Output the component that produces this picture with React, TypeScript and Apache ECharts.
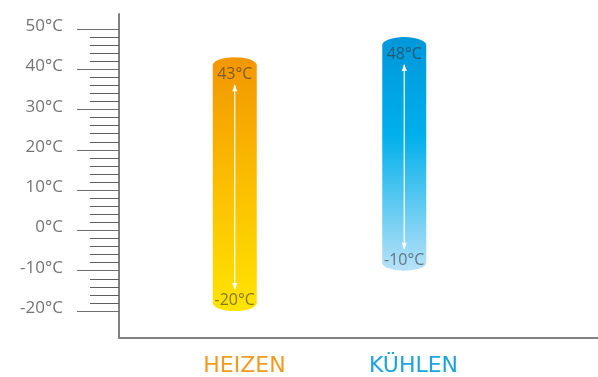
import React, { useEffect, useRef } from "react";
import * as echarts from "echarts";

const categories = ["HEIZEN", "KÜHLEN"];
const minTemps = [-20, -10];
const maxTemps = [43, 48];
const axisMin = -20;
const axisMax = 50;
const axisInterval = 10;

const gradients = [
  [
    { offset: 0, color: "#F39600" },
    { offset: 0.5, color: "#FBBE00" },
    { offset: 1, color: "#FFE400" },
  ],
  [
    { offset: 0, color: "#0097DA" },
    { offset: 0.42, color: "#00AFEB" },
    { offset: 1, color: "#B8E2F8" },
  ],
];
const labelColors = ["#F39A1E", "#1BA3E0"];

export default function App() {
  const ref = useRef<HTMLDivElement>(null);
  useEffect(() => {
    if (!ref.current) return;
    const chart = echarts.init(ref.current, undefined, { renderer: "svg" });
    const data = categories.map((c, i) => [i, minTemps[i], maxTemps[i]]);
    const option: any = {
      animation: false,
      grid: [
        { left: 119, right: 0, top: 14, bottom: 39 },
        { left: 119, right: 0, top: 29, bottom: 66 },
        { left: 150, right: 109, top: 29, bottom: 66 },
        { left: 160, right: 100, top: 29, bottom: 39 },
      ],
      xAxis: [
        {
          gridIndex: 0,
          type: "category",
          data: categories,
          axisLine: { show: true, lineStyle: { color: "#808080", width: 2 } },
          axisTick: { show: false },
          axisLabel: { show: false },
        },
        { gridIndex: 1, type: "category", data: categories, show: false },
        { gridIndex: 2, type: "category", data: categories, show: false },
        {
          gridIndex: 3,
          type: "category",
          data: categories,
          axisLine: { show: false },
          axisTick: { show: false },
          axisLabel: {
            margin: 15,
            fontFamily: "DejaVu Sans",
            fontSize: 22,
            color: (v: string, i: number) => labelColors[i],
          },
        },
      ],
      yAxis: [
        {
          gridIndex: 0,
          type: "value",
          min: 0,
          max: 1,
          axisLine: { show: true, lineStyle: { color: "#808080", width: 2 } },
          axisTick: { show: false },
          axisLabel: { show: false },
          splitLine: { show: false },
        },
        {
          gridIndex: 1,
          type: "value",
          min: axisMin,
          max: axisMax,
          interval: axisInterval,
          axisLine: { show: false },
          axisTick: { show: true, length: 42, lineStyle: { color: "#6e6e6e", width: 1 } },
          minorTick: { show: true, splitNumber: 5, length: 29, lineStyle: { color: "#5e5e5e", width: 1 } },
          axisLabel: {
            margin: 56,
            formatter: "{value}°C",
            fontFamily: "Open Sans",
            fontWeight: 400,
            fontSize: 17,
            color: "#747474",
            verticalAlign: "bottom",
            lineHeight: 9,
          },
          splitLine: { show: false },
          minorSplitLine: { show: false },
        },
        { gridIndex: 2, type: "value", min: axisMin, max: axisMax, show: false, splitLine: { show: false } },
        { gridIndex: 3, type: "value", show: false, splitLine: { show: false } },
      ],
      series: [
        {
          type: "custom",
          xAxisIndex: 2,
          yAxisIndex: 2,
          data,
          renderItem: (params: any, api: any) => {
            const idx = api.value(0);
            const lo = api.value(1);
            const hi = api.value(2);
            const top = api.coord([idx, hi]);
            const bot = api.coord([idx, lo]);
            const cx = top[0];
            const rx = 22;
            const ry = 8;
            const x0 = cx - rx;
            const x1 = cx + rx;
            const y0 = top[1];
            const y1 = bot[1];
            const d = `M${x0} ${y0 + ry} A${rx} ${ry} 0 0 1 ${x1} ${y0 + ry} L${x1} ${y1 - ry} A${rx} ${ry} 0 0 1 ${x0} ${y1 - ry} Z`;
            const aTop = y0 + 28;
            const aBot = y1 - 22;
            const textFill = "rgba(50,50,50,0.6)";
            return {
              type: "group",
              children: [
                {
                  type: "path",
                  shape: { pathData: d },
                  style: {
                    fill: {
                      type: "linear",
                      x: 0,
                      y: 0,
                      x2: 0,
                      y2: 1,
                      colorStops: gradients[idx],
                    },
                  },
                },
                {
                  type: "line",
                  shape: { x1: cx, y1: aTop, x2: cx, y2: aBot },
                  style: { stroke: "#ffffff", lineWidth: 1.2 },
                },
                {
                  type: "polygon",
                  shape: { points: [[cx, aTop - 1], [cx - 2.5, aTop + 6], [cx + 2.5, aTop + 6]] },
                  style: { fill: "#ffffff" },
                },
                {
                  type: "polygon",
                  shape: { points: [[cx, aBot + 1], [cx - 2.5, aBot - 6], [cx + 2.5, aBot - 6]] },
                  style: { fill: "#ffffff" },
                },
                {
                  type: "text",
                  style: {
                    text: `${hi}°C`,
                    x: cx,
                    y: y0 + 16,
                    align: "center",
                    verticalAlign: "middle",
                    fill: textFill,
                    fontFamily: "Open Sans",
                    fontWeight: 400,
                    fontSize: 16,
                  },
                },
                {
                  type: "text",
                  style: {
                    text: `${lo}°C`,
                    x: cx,
                    y: y1 - 12,
                    align: "center",
                    verticalAlign: "middle",
                    fill: textFill,
                    fontFamily: "Open Sans",
                    fontWeight: 400,
                    fontSize: 16,
                  },
                },
              ],
            };
          },
        },
      ],
    };
    chart.setOption(option);
    return () => chart.dispose();
  }, []);
  return <div ref={ref} style={{ width: 598, height: 377, position: "fixed", left: 0, top: 0 }} />;
}
